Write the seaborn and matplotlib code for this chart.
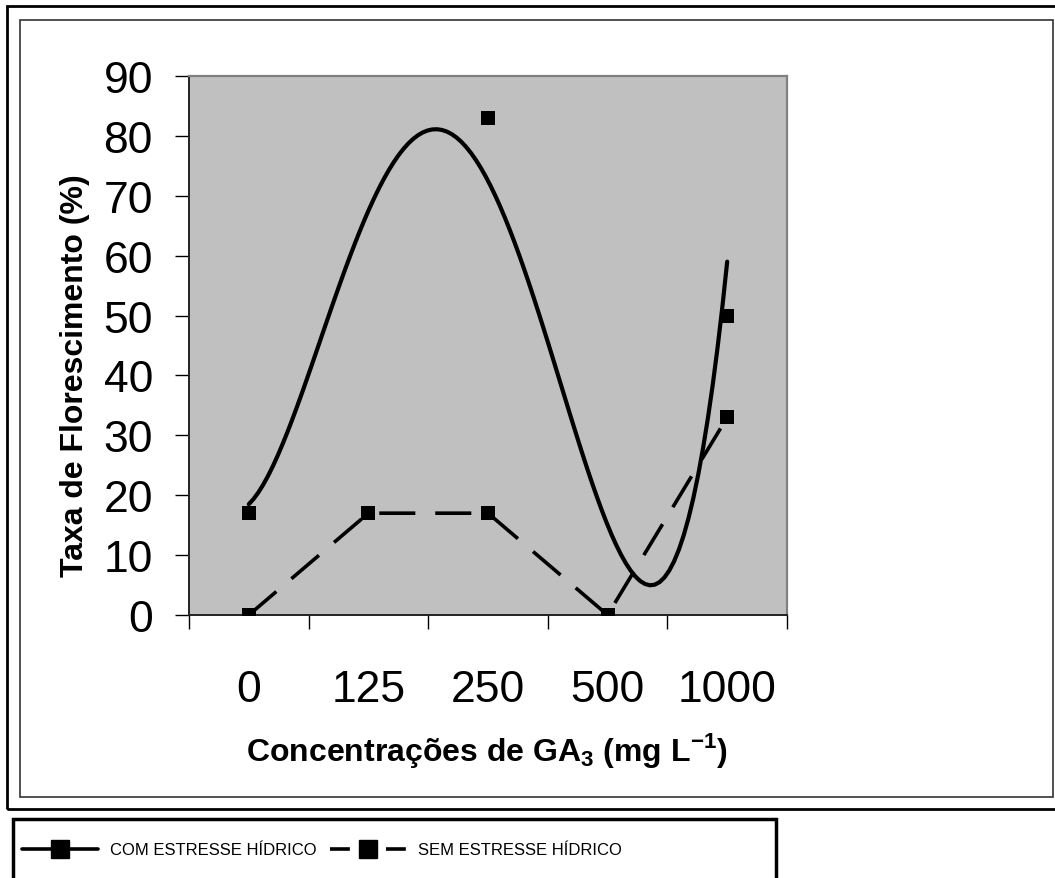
import numpy as np
import pandas as pd
import matplotlib
matplotlib.use("Agg")
import matplotlib.pyplot as plt
import seaborn as sns
from matplotlib.lines import Line2D
from matplotlib.patches import Rectangle

concentracoes = ["0", "125", "250", "500", "1000"]
com_estresse = [17, np.nan, 83, np.nan, 50]
sem_estresse = [0, 17, 17, 0, 33]
# linha de tendencia polinomial (ordem 4) da serie com estresse
tendencia_com = [18.5, 67.5, 72.5, 15.0, 59]
yticks = list(range(0, 91, 10))

sns.set_theme(style="white")
plt.rcParams["font.family"] = ["Liberation Sans", "DejaVu Sans"]
plt.rcParams["mathtext.fontset"] = "custom"
plt.rcParams["mathtext.rm"] = "Liberation Sans"
plt.rcParams["mathtext.bf"] = "Liberation Sans:bold"
plt.rcParams["text.color"] = "black"
plt.rcParams["xtick.color"] = "black"
plt.rcParams["ytick.color"] = "black"

W, H = 1055, 879
fig = plt.figure(figsize=(W / 100, H / 100), dpi=100)
ax = fig.add_axes([189 / W, 1 - 616 / H, (787 - 189) / W, (616 - 77) / H])
ax.set_facecolor("#C0C0C0")

pos = np.arange(len(concentracoes))
df = pd.DataFrame({"pos": pos, "com": com_estresse, "sem": sem_estresse,
                   "trend": tendencia_com})

# trendline
sns.regplot(data=df, x="pos", y="trend", order=4, ci=None, scatter=False, ax=ax,
            line_kws=dict(color="black", lw=3, solid_capstyle="round", zorder=3))
# sem estresse: dashed line with markers
sns.lineplot(data=df, x="pos", y="sem", ax=ax, color="black", lw=2.6,
             linestyle=(0, (10, 5.5)), marker="s", markersize=10.5,
             markeredgewidth=0, zorder=4)
# com estresse: markers only
sns.scatterplot(data=df, x="pos", y="com", ax=ax, marker="s", s=10.5 ** 2,
                color="black", linewidth=0, zorder=5)

ax.set_xlim(-0.5, 4.5)
ax.set_ylim(0, 90)
ax.set_xlabel("")
ax.set_ylabel("")
ax.set_yticks(yticks)
ax.set_xticks(np.arange(-0.5, 5, 1))
ax.set_xticklabels([])
ax.set_xticks(pos, minor=True)
ax.set_xticklabels(concentracoes, minor=True)
ax.tick_params(axis="x", which="major", bottom=True, length=10, width=1,
               direction="out", color="black")
ax.tick_params(axis="x", which="minor", bottom=True, length=0, pad=39,
               labelsize=32, labelcolor="black")
ax.tick_params(axis="y", left=True, length=10, width=1, direction="out",
               color="black", pad=16, labelsize=32, labelcolor="black")
for s in ["left", "bottom"]:
    ax.spines[s].set_color("#222222")
    ax.spines[s].set_linewidth(1.4)
for s in ["top", "right"]:
    ax.spines[s].set_color("#808080")
    ax.spines[s].set_linewidth(1.6)

fig.text(75 / W, 1 - 376 / H, "Taxa de Florescimento (%)", rotation=90,
         ha="center", va="center", fontsize=23, fontweight="bold")
fig.text(487 / W, 1 - 750 / H,
         r"Concentrações de GA$_{\mathbf{3}}$ (mg L$^{\mathbf{-1}}$)",
         ha="center", va="center", fontsize=23, fontweight="bold")

# frames
fig.add_artist(Rectangle((7 / W, 1 - 810 / H), (1070 - 7) / W, (810 - 7) / H,
                         transform=fig.transFigure, fill=False, ec="black", lw=2))
fig.add_artist(Rectangle((20 / W, 1 - 798 / H), (1053 - 20) / W, (798 - 21) / H,
                         transform=fig.transFigure, fill=False, ec="#333333", lw=1.2))
fig.add_artist(Rectangle((13 / W, 1 - 895 / H), (776 - 13) / W, (895 - 820) / H,
                         transform=fig.transFigure, fill=False, ec="black", lw=2.5))

handles = [
    Line2D([], [], color="black", lw=2.6, marker="s", markersize=13),
    Line2D([], [], color="black", lw=2.6,
           linestyle=(0, (5.5, 3.3, 2.4, 4.3, 5.5, 10)),
           marker="s", markersize=13),
]
labels = ["COM ESTRESSE HÍDRICO", "SEM ESTRESSE HÍDRICO"]
fig.legend(handles, labels, loc="center left", bbox_to_anchor=(22 / W, 1 - 851 / H),
           frameon=False, ncol=2, handlelength=4.55, handletextpad=0.72,
           columnspacing=0.8, borderpad=0, borderaxespad=0, numpoints=1,
           prop=dict(family="Liberation Sans", size=12))

fig.savefig("out.png", dpi=100)
